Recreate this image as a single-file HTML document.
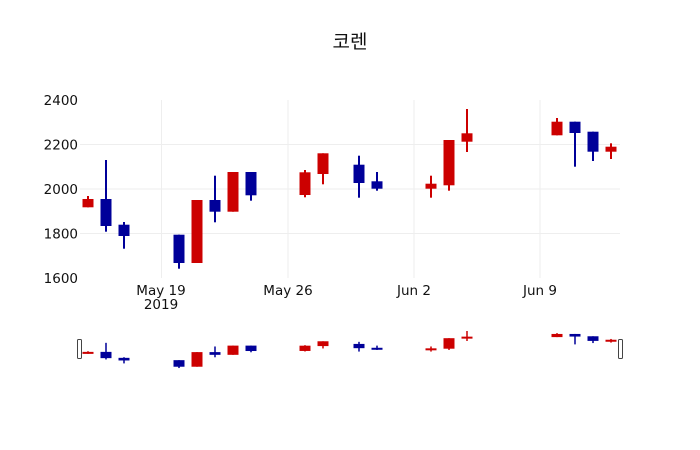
<!DOCTYPE html>
<html><head><meta charset="utf-8"><style>
html,body{margin:0;padding:0;background:#fff;}
svg{display:block;font-family:"DejaVu Sans","Liberation Sans","Noto Sans CJK KR",sans-serif;}
</style></head><body>
<svg id="s" width="700" height="450" xmlns="http://www.w3.org/2000/svg">
<rect width="700" height="450" fill="#fff"/>
<g stroke="#eeeeee" stroke-width="1">
<line x1="80" x2="620" y1="144.5" y2="144.5"/>
<line x1="80" x2="620" y1="189" y2="189"/>
<line x1="80" x2="620" y1="233.5" y2="233.5"/>
<line x1="161.5" x2="161.5" y1="100" y2="278"/>
<line x1="288" x2="288" y1="100" y2="278"/>
<line x1="414" x2="414" y1="100" y2="278"/>
<line x1="540" x2="540" y1="100" y2="278"/>
</g>
<g font-size="13.5" fill="#111" text-anchor="end">
<text x="78" y="105">2400</text>
<text x="78" y="149.5">2200</text>
<text x="78" y="194">2000</text>
<text x="78" y="238.5">1800</text>
<text x="78" y="283">1600</text>
</g>
<g font-size="13.5" fill="#111" text-anchor="middle">
<text x="161" y="295">May 19</text>
<text x="161" y="309">2019</text>
<text x="288" y="295">May 26</text>
<text x="414" y="295">Jun 2</text>
<text x="540" y="295">Jun 9</text>
</g>
<text x="350" y="48" font-size="19" fill="#111" text-anchor="middle" font-family="'Noto Sans CJK KR',sans-serif">코렌</text>
<g id="main"></g>
<g id="slider"></g>
<rect x="77.5" y="339.5" width="4" height="19" rx="1" fill="#fff" stroke="#444" stroke-width="1"/>
<rect x="618.5" y="339.5" width="4" height="19" rx="1" fill="#fff" stroke="#444" stroke-width="1"/>
</svg>
<script>
var d=[
[88,'r',196,199,207.3,207.3],
[106,'b',160,199,226,231.7],
[124,'b',222,224.7,236,248.7],
[179,'b',234.7,234.7,263,268.7],
[197,'r',200,200,263,263],
[215,'b',175.7,200,211.7,222.3],
[233,'r',172,172,211.7,211.7],
[251,'b',172,172,195.3,200.7],
[305,'r',170,172.3,195,197.3],
[323,'r',153.3,153.3,174,184.3],
[359,'b',155.7,164.7,183,197.7],
[377,'b',172,181.3,188.7,190.7],
[431,'r',175.7,183.7,188.7,197.7],
[449,'r',140,140,185.3,190.7],
[467,'r',109,133.3,141.7,152],
[557,'r',118,121.7,135.3,135.3],
[575,'b',121.7,121.7,133,166.7],
[593,'b',131.7,131.7,151.7,161],
[611,'r',143.3,146.7,151.7,159]];
var ns="http://www.w3.org/2000/svg";
function add(g,tag,a){var e=document.createElementNS(ns,tag);for(var k in a)e.setAttribute(k,a[k]);g.appendChild(e);}
var m=document.getElementById('main'),s=document.getElementById('slider');
function sy(y){return 331+(y-109)*0.232;}
d.forEach(function(c){
 var col=c[1]=='r'?'#cc0000':'#000099';
 add(m,'line',{x1:c[0],x2:c[0],y1:c[2],y2:c[5],stroke:col,'stroke-width':2});
 add(m,'rect',{x:c[0]-5.5,y:c[3],width:11,height:Math.max(c[4]-c[3],1.5),fill:col});
 add(s,'line',{x1:c[0],x2:c[0],y1:sy(c[2]),y2:sy(c[5]),stroke:col,'stroke-width':1.5});
 add(s,'rect',{x:c[0]-5.5,y:sy(c[3]),width:11,height:Math.max(sy(c[4])-sy(c[3]),2),fill:col});
});
</script>
</body></html>
